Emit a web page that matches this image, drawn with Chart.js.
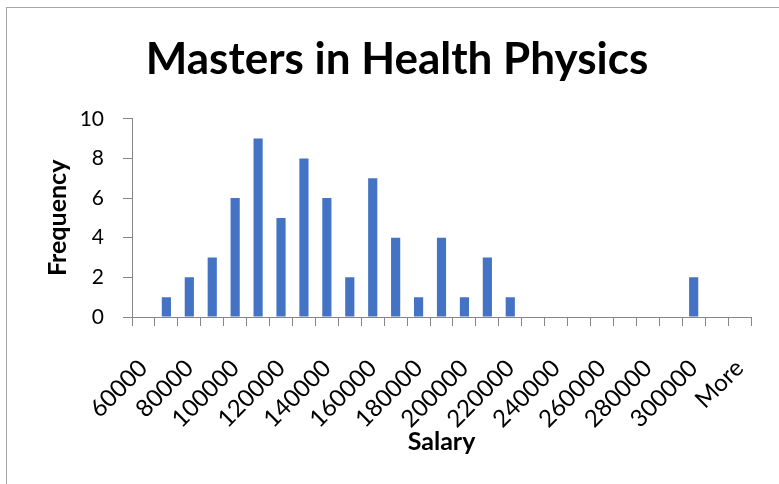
<!DOCTYPE html>
<html>
<head>
<meta charset="utf-8">
<script src="https://cdn.jsdelivr.net/npm/chart.js@4"></script>
<style>
  html, body { margin: 0; padding: 0; background: #fff; overflow: hidden; }
  #frame {
    position: absolute; left: 6px; top: 7px;
    width: 786px; height: 490px;
    border-top: 1px solid #a6a6a6; border-left: 1px solid #a6a6a6;
  }
  #chartWrap { width: 786px; height: 477px; }
</style>
</head>
<body>
<div id="frame"><div id="chartWrap"><canvas id="histChart"></canvas></div></div>
<script>
// histogram bins (Excel style, last one is "More")
const bins = ['60000', '70000', '80000', '90000', '100000', '110000', '120000',
  '130000', '140000', '150000', '160000', '170000', '180000', '190000', '200000',
  '210000', '220000', '230000', '240000', '250000', '260000', '270000', '280000',
  '290000', '300000', '310000', 'More'];
const frequency = [0, 1, 2, 3, 6, 9, 5, 8, 6, 2, 7, 4, 1, 4, 1, 3, 1,
  0, 0, 0, 0, 0, 0, 0, 2, 0, 0];
const yTicks = [0, 2, 4, 6, 8, 10];

const axisGrey = '#868686';
const fontFamily = 'Lato, "Noto Sans", sans-serif';

const ctx = document.getElementById('histChart').getContext('2d');

new Chart(ctx, {
  type: 'bar',
  data: {
    labels: bins,
    datasets: [{
      label: 'Frequency',
      data: frequency,
      backgroundColor: '#4472C4',
      categoryPercentage: 1,
      barPercentage: 0.4
    }]
  },
  options: {
    responsive: true,
    maintainAspectRatio: false,
    animation: false,
    layout: { padding: { left: 36, right: 42, top: 0, bottom: 28 } },
    plugins: {
      legend: { display: false },
      tooltip: { enabled: false },
      title: {
        display: true,
        text: 'Masters in Health Physics',
        color: '#000',
        font: { family: fontFamily, size: 44, weight: 'bold' },
        padding: { top: 25, bottom: 33 }
      }
    },
    scales: {
      x: {
        // rotated labels may hang left of the plot, like in Excel
        afterFit: function (axis) {
          axis.paddingLeft = 0;
          axis.paddingRight = 0;
          axis.height = 140;
        },
        grid: {
          display: true,
          drawOnChartArea: false,
          color: axisGrey,
          tickLength: 9,
          offset: true
        },
        border: { color: axisGrey, width: 1 },
        ticks: {
          autoSkip: false,
          maxRotation: 45,
          minRotation: 45,
          color: '#000',
          padding: 28,
          font: { family: fontFamily, size: 24 },
          callback: function (value, index) {
            return index % 2 === 0 ? bins[index] : '';
          }
        },
        title: {
          display: true,
          text: 'Salary',
          color: '#000',
          font: { family: fontFamily, size: 25, weight: 'bold' },
          padding: { top: 0, bottom: 0 }
        }
      },
      y: {
        min: 0,
        max: 10,
        afterBuildTicks: function (axis) {
          axis.ticks = yTicks.map(v => ({ value: v }));
        },
        afterFit: function (axis) {
          axis.width = 89;
        },
        grid: {
          display: true,
          drawOnChartArea: false,
          color: axisGrey,
          tickLength: 9
        },
        border: { color: axisGrey, width: 1 },
        ticks: {
          color: '#000',
          padding: 19,
          font: { family: fontFamily, size: 21 }
        },
        title: {
          display: true,
          text: 'Frequency',
          color: '#000',
          font: { family: fontFamily, size: 25, weight: 'bold' },
          padding: { top: 0, bottom: 0 }
        }
      }
    }
  }
});
</script>
</body>
</html>
